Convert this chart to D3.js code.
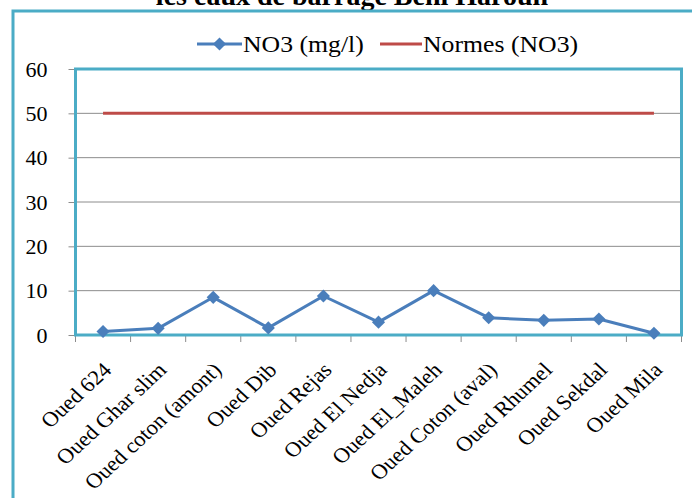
<!DOCTYPE html>
<html>
<head>
<meta charset="utf-8">
<script src="https://cdn.jsdelivr.net/npm/d3@7"></script>
<style>
  html, body { margin: 0; padding: 0; background: #fff; }
  svg { display: block; }
  text { font-family: "Liberation Serif", "Times New Roman", serif; fill: #000; }
</style>
</head>
<body>
<svg id="chart" width="692" height="498"></svg>
<script>
// Sampling stations along the wadis feeding the Beni Haroun dam
const stations = [
  "Oued 624", "Oued Ghar slim", "Oued coton (amont)", "Oued Dib", "Oued Rejas",
  "Oued El Nedja", "Oued El_Maleh", "Oued Coton (aval)", "Oued Rhumel",
  "Oued Sekdal", "Oued Mila"
];
// Measured nitrate concentration (mg/l)
const no3 = [0.8, 1.5, 8.5, 1.6, 8.8, 2.9, 10.0, 3.9, 3.3, 3.6, 0.4];
// Regulatory limit for nitrates (mg/l)
const normes = [50, 50, 50, 50, 50, 50, 50, 50, 50, 50, 50];
const yTicks = [0, 10, 20, 30, 40, 50, 60];
const seriesNames = ["NO3 (mg/l)", "Normes (NO3)"];
const titleText = "les eaux de barrage Beni Haroun";

const blue = "#4A7EBB", red = "#BE4B48", teal = "#4BACC6", grid = "#8C8C8C";

const svg = d3.select("#chart");
svg.append("rect").attr("width", 692).attr("height", 498).attr("fill", "#fff");

// Title (its upper part runs off the top of the page)
svg.append("text")
  .attr("x", 352).attr("y", 5)
  .attr("text-anchor", "middle")
  .attr("font-size", 28).attr("font-weight", "bold")
  .text(titleText);

// Outer chart frame
svg.append("rect")
  .attr("x", 13).attr("y", 11).attr("width", 720).attr("height", 520)
  .attr("fill", "none").attr("stroke", teal).attr("stroke-width", 3);

const plot = { left: 75.5, right: 681.5, top: 69, bottom: 335 };
const x = d3.scaleBand().domain(stations).range([plot.left, plot.right]).padding(0);
const y = d3.scaleLinear().domain([0, 60]).range([plot.bottom, plot.top]);
const cx = d => x(d) + x.bandwidth() / 2;

// Gridlines
svg.append("g").selectAll("line").data(yTicks.filter(t => t > 0 && t < 60)).join("line")
  .attr("x1", plot.left).attr("x2", plot.right)
  .attr("y1", d => y(d)).attr("y2", d => y(d))
  .attr("stroke", grid).attr("stroke-width", 1);

// Y axis
const yAxis = svg.append("g").attr("transform", `translate(${plot.left},0)`)
  .call(d3.axisLeft(y).tickValues(yTicks).tickSize(7).tickPadding(21).tickFormat(d3.format("d")));
yAxis.select(".domain").remove();
yAxis.selectAll(".tick line").attr("stroke", grid);
yAxis.selectAll(".tick text")
  .attr("font-size", 22).attr("font-family", "Liberation Serif").attr("fill", "#000");

// X axis tick marks at category boundaries
const edges = stations.map(s => x(s)).concat([x(stations[stations.length - 1]) + x.bandwidth()]);
svg.append("g").selectAll("line").data(edges).join("line")
  .attr("x1", d => d).attr("x2", d => d)
  .attr("y1", plot.bottom).attr("y2", plot.bottom + 7)
  .attr("stroke", grid).attr("stroke-width", 1);

// Plot area frame
svg.append("rect")
  .attr("x", plot.left).attr("y", plot.top)
  .attr("width", plot.right - plot.left).attr("height", plot.bottom - plot.top)
  .attr("fill", "none").attr("stroke", teal).attr("stroke-width", 3);

// Rotated category labels
svg.append("g").selectAll("text").data(stations).join("text")
  .attr("transform", d => `translate(${cx(d) + 4},366) scale(1.08,1) rotate(-45)`)
  .attr("text-anchor", "end")
  .attr("dy", "0.35em")
  .attr("font-size", 21)
  .text(d => d);

// Norm line
svg.append("path")
  .datum(normes)
  .attr("fill", "none").attr("stroke", red).attr("stroke-width", 3)
  .attr("d", d3.line().x((d, i) => cx(stations[i])).y(d => y(d)));

// Nitrate series
svg.append("path")
  .datum(no3)
  .attr("fill", "none").attr("stroke", blue).attr("stroke-width", 3).attr("stroke-linejoin", "round")
  .attr("d", d3.line().x((d, i) => cx(stations[i])).y(d => y(d)));

const diamond = d3.symbol().type(d3.symbolDiamond2).size(110);
svg.append("g").selectAll("path").data(no3).join("path")
  .attr("transform", (d, i) => `translate(${cx(stations[i])},${y(d)})`)
  .attr("d", diamond)
  .attr("fill", blue);

// Legend
const lg = svg.append("g");
lg.append("line").attr("x1", 197).attr("x2", 242).attr("y1", 44).attr("y2", 44)
  .attr("stroke", blue).attr("stroke-width", 3);
lg.append("path").attr("transform", "translate(219.5,44)").attr("d", diamond).attr("fill", blue);
lg.append("text").attr("transform", "translate(243,52) scale(1.12,1)")
  .attr("font-size", 23).text(seriesNames[0]);
lg.append("line").attr("x1", 380).attr("x2", 422).attr("y1", 44).attr("y2", 44)
  .attr("stroke", red).attr("stroke-width", 3);
lg.append("text").attr("transform", "translate(423,52) scale(1.12,1)")
  .attr("font-size", 23).text(seriesNames[1]);
</script>
</body>
</html>
